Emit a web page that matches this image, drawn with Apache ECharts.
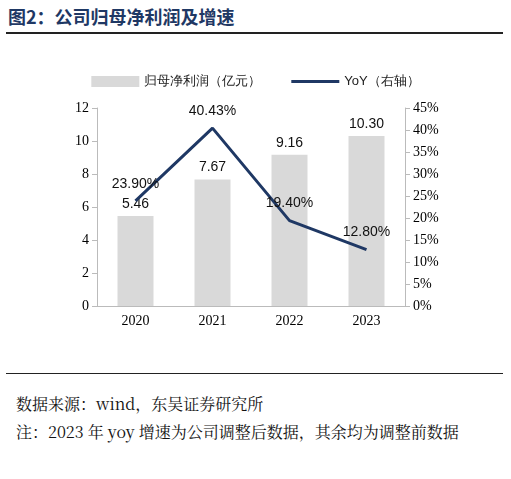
<!DOCTYPE html>
<html><head><meta charset="utf-8">
<script src="https://cdn.jsdelivr.net/npm/echarts@6/dist/echarts.min.js"></script>
<style>
body{margin:0;width:511px;height:479px;background:#fff;font-family:"Noto Sans CJK SC",sans-serif;position:relative;overflow:hidden}
#t{position:absolute;left:8px;top:3px;font-size:18px;font-weight:bold;color:#1f3864;font-family:"Noto Sans CJK SC"}
#l1{position:absolute;left:6px;top:32px;width:497px;height:2px;background:#222}
#l2{position:absolute;left:6px;top:373px;width:497px;height:1px;background:#222}
#c{position:absolute;left:0;top:40px;width:511px;height:300px}
#n{position:absolute;left:16px;top:390px;font-size:16px;line-height:28px;color:#111;font-family:"Noto Serif CJK SC","Noto Sans CJK SC";width:470px}
</style></head><body>
<div id="t">图2：公司归母净利润及增速</div><div id="l1"></div>
<div id="c"></div><div id="l2"></div>
<div id="n">数据来源：wind，东吴证券研究所<br>注：2023 年 yoy 增速为公司调整后数据，其余均为调整前数据</div>
<script>
const categories=['2020','2021','2022','2023'];
const profit=[5.46,7.67,9.16,10.30];
const yoy=[23.90,40.43,19.40,12.80];
const c=echarts.init(document.getElementById('c'));
const ax={fontSize:14,color:'#000',fontFamily:'Times New Roman, Liberation Serif'};
c.setOption({
animation:false,
legend:{top:30,left:'center',itemGap:30,textStyle:{fontSize:13,color:'#222'},itemWidth:48,itemHeight:11,
 data:[{name:'归母净利润（亿元）',icon:'rect',itemStyle:{color:'#d9d9d9'}},{name:'YoY（右轴）',icon:'path://M0,4h48v3h-48z',itemStyle:{color:'#1f3864'}}]},
grid:{left:97,right:106,top:68,bottom:34},
xAxis:{type:'category',data:categories,axisTick:{show:false},axisLine:{lineStyle:{color:'#bbb'}},axisLabel:ax},
yAxis:[{type:'value',min:0,max:12,interval:2,splitLine:{show:false},axisLine:{show:true,lineStyle:{color:'#bbb'}},axisTick:{show:true},axisLabel:ax},
{type:'value',min:0,max:45,interval:5,splitLine:{show:false},axisLine:{show:true,lineStyle:{color:'#bbb'}},axisTick:{show:true},axisLabel:Object.assign({formatter:'{value}%'},ax)}],
series:[{name:'归母净利润（亿元）',type:'bar',data:profit,barWidth:36,itemStyle:{color:'#d9d9d9'},
 label:{show:true,position:'top',fontSize:14,color:'#111',formatter:p=>p.value.toFixed(2)}},
{name:'YoY（右轴）',type:'line',yAxisIndex:1,data:yoy,symbol:'circle',symbolSize:0.1,showSymbol:true,lineStyle:{color:'#1f3864',width:3},itemStyle:{color:'#1f3864'},
 labelLayout:{hideOverlap:false},
 label:{show:true,position:'top',distance:10,fontSize:14,color:'#111',formatter:p=>p.value.toFixed(2)+'%'}}]
});
</script></body></html>
